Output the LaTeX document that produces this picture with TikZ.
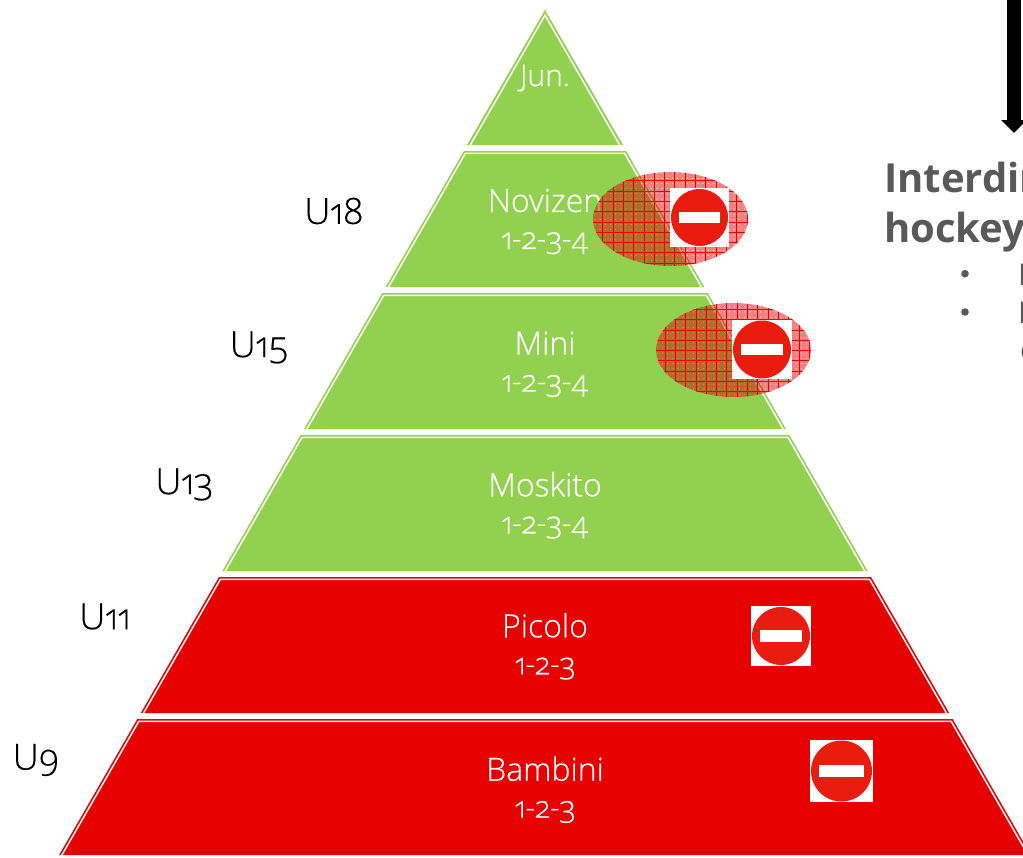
\documentclass[tikz,border=0pt]{standalone}
\usepackage{fontspec}
\setmainfont[Numbers=OldStyle,BoldFont={Open Sans Light},BoldFeatures={FakeBold=0.45}]{Open Sans Light}
\newfontfamily\headfont{Open Sans}
\usetikzlibrary{arrows.meta,calc}
\definecolor{tiergreen}{RGB}{146,208,80}
\definecolor{tierred}{RGB}{230,0,0}
\definecolor{signred}{RGB}{234,28,16}
\definecolor{headgray}{RGB}{89,89,89}
\newcommand{\tier}[3]{% top, bottom, colour
  \pgfmathsetmacro{\ot}{0.575*(#1-10)}\pgfmathsetmacro{\ob}{0.575*(#2-10)}
  \pgfmathsetmacro{\tt}{0.575*(#1+2.4-10)-2.8}\pgfmathsetmacro{\bb}{0.575*(#2+3-10)-2.8}
  \fill[#3] (545-\ot,#1)--(545+\ot,#1)--(545+\ob,#2)--(545-\ob,#2)--cycle;
  \draw[white,line width=1.5pt,line join=miter] (545-\bb,#2+3)--(545-\tt,#1+2.4)--(545+\tt,#1+2.4)--(545+\bb,#2+3);
}
\newcommand{\dig}[1]{{\fontsize{30}{37}\selectfont #1}}
\tikzset{
  tiertext/.style={white,font=\bfseries\fontsize{32}{37}\selectfont,align=center,inner sep=0pt},
  agelabel/.style={black,font=\bfseries\fontsize{36}{40}\selectfont,inner sep=0pt},
  headtext/.style={anchor=base west,inner sep=0pt,font=\headfont\bfseries\fontsize{40}{48}\selectfont,text=headgray},
  bullettext/.style={anchor=base west,inner sep=0pt,font=\headfont\fontsize{30}{36}\selectfont,text=headgray},
}
\newcommand{\nosign}[7]{% x0,x1,y0,y1,r,barhalfw,barhalfh
  \fill[white] (#1,#3) rectangle (#2,#4);
  \fill[signred] ({(#1+#2)/2},{(#3+#4)/2}) circle (#5);
  \fill[white] ({(#1+#2)/2-#6},{(#3+#4)/2-#7}) rectangle ({(#1+#2)/2+#6},{(#3+#4)/2+#7});
}
\newcommand{\hatchell}[4]{% cx,cy,first vertical line,first horizontal line
  \begin{scope}
    \clip (#1,#2) ellipse [x radius=77.5,y radius=47];
    \fill[red!90!black,opacity=.49,even odd rule] (#1-80,#2-50) rectangle (#1+80,#2+50)
      foreach \i in {0,...,31}{ foreach \j in {0,...,19}{
        (#3-10.3+\i*5.15+2.1,#4-10.3+\j*5.15+2.1) rectangle ++(1,1) } };
    \foreach \k in {0,...,15}{\draw[tierred,line width=.7pt] (#3+\k*10.3,#2-50)--(#3+\k*10.3,#2+50);}
    \foreach \k in {0,...,9}{\draw[tierred,line width=.7pt] (#1-80,#4+\k*10.3)--(#1+80,#4+\k*10.3);}
  \end{scope}
}
\begin{document}
\begin{tikzpicture}[x=1pt,y=-1pt]
\useasboundingbox (0,0) rectangle (1023,857);
\clip (0,0) rectangle (1023,857);
\fill[white] (0,0) rectangle (1023,857);
% top triangle
\fill[tiergreen] (545,10)--(623,145)--(467,145)--cycle;
\draw[white,line width=1.5pt,line join=miter] (468.6,148)--(545,15.2)--(621.4,148);
\draw[tiergreen!70,line width=.4pt] (545,11) circle (1.4);
\tier{151}{287}{tiergreen}
\tier{293}{429}{tiergreen}
\tier{435}{571}{tiergreen}
\tier{577}{713}{tierred}
\tier{719}{855}{tierred}
\node[tiertext] (jun) at (545,78) {\dig{Jun.}};
\node[tiertext] (nov) at (545,221.5) {Novizen\\\dig{1-2-3-4}};
\node[tiertext] (mini) at (545,364.2) {Mini\\\dig{1-2-3-4}};
\node[tiertext] (mos) at (545,505.3) {Moskito\\\dig{1-2-3-4}};
\node[tiertext] (pic) at (545,646.3) {Picolo\\\dig{1-2-3}};
\node[tiertext] (bam) at (545,789.7) {Bambini\\\dig{1-2-3}};
\node[agelabel] (u18) at (334,211) {U18};
\node[agelabel] (u15) at (259,347.5) {U15};
\node[agelabel] (u13) at (184,484.5) {U13};
\node[agelabel] (u11) at (105,616.5) {U11};
\node[agelabel] (u9) at (36,760) {U9};
\hatchell{670.5}{219}{602.7}{180.7}
\hatchell{733.5}{350}{665}{309.3}
\nosign{670}{729}{188}{247}{28.5}{20.5}{5.5}
\nosign{732}{792}{320}{379}{29}{21}{5.5}
\nosign{751}{811}{606}{666}{29}{21}{6}
\nosign{810}{873}{740}{802}{30.5}{22.5}{6}
\coordinate (arrtop) at (1014,-10);
\coordinate (arrtip) at (1014,133);
\draw[black,line width=14pt,-{Triangle[width=25pt,length=13pt]}] (arrtop)--(arrtip);
\node[headtext] (head1) at (884,192) {Interdin};
\node[headtext] (head2) at (884,242) {hockey};
\fill[headgray] (965,273.7) circle (3.8);
\fill[headgray] (965,312) circle (3.8);
\node[bullettext] (b1) at (1018,285) {E};
\node[bullettext] (b2) at (1018,323) {E};
\node[bullettext] (b3) at (1020,360) {c};
\end{tikzpicture}
\end{document}
